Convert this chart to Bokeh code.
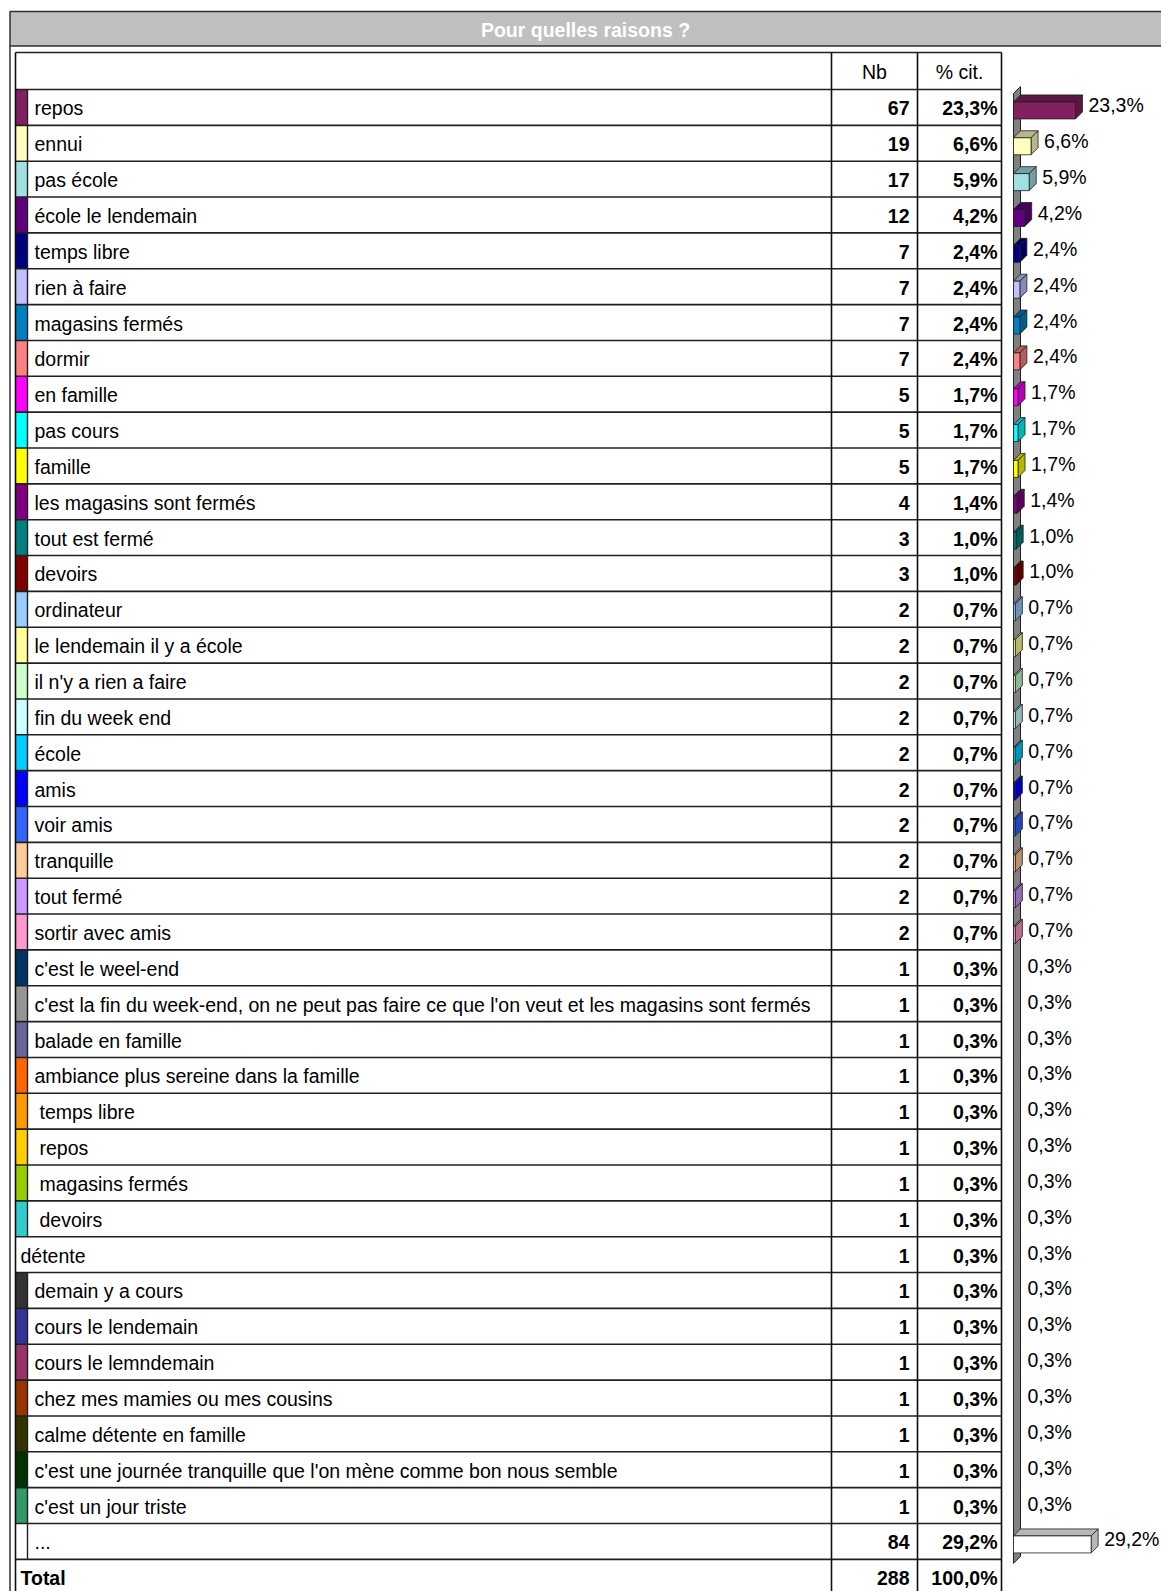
from bokeh.plotting import figure
from bokeh.models import Range1d
from bokeh.core.properties import value
from bokeh.embed import file_html
from bokeh.resources import INLINE

# ---------------- data ----------------
title = "Pour quelles raisons ?"
header_nb = "Nb"
header_pct = "% cit."

labels = [
    "repos", "ennui", "pas école", "école le lendemain", "temps libre",
    "rien à faire", "magasins fermés", "dormir", "en famille", "pas cours",
    "famille", "les magasins sont fermés", "tout est fermé", "devoirs",
    "ordinateur", "le lendemain il y a école", "il n'y a rien a faire",
    "fin du week end", "école", "amis", "voir amis", "tranquille",
    "tout fermé", "sortir avec amis", "c'est le weel-end",
    "c'est la fin du week-end, on ne peut pas faire ce que l'on veut et les magasins sont fermés",
    "balade en famille", "ambiance plus sereine dans la famille",
    " temps libre", " repos", " magasins fermés", " devoirs", "détente",
    "demain y a cours", "cours le lendemain", "cours le lemndemain",
    "chez mes mamies ou mes cousins", "calme détente en famille",
    "c'est une journée tranquille que l'on mène comme bon nous semble",
    "c'est un jour triste", "...",
]
counts = [67, 19, 17, 12, 7, 7, 7, 7, 5, 5, 5, 4, 3, 3, 2, 2, 2, 2, 2, 2, 2, 2,
          2, 2, 1, 1, 1, 1, 1, 1, 1, 1, 1, 1, 1, 1, 1, 1, 1, 1, 84]
pcts = [23.3, 6.6, 5.9, 4.2, 2.4, 2.4, 2.4, 2.4, 1.7, 1.7, 1.7, 1.4, 1.0, 1.0,
        0.7, 0.7, 0.7, 0.7, 0.7, 0.7, 0.7, 0.7, 0.7, 0.7, 0.3, 0.3, 0.3, 0.3,
        0.3, 0.3, 0.3, 0.3, 0.3, 0.3, 0.3, 0.3, 0.3, 0.3, 0.3, 0.3, 29.2]
colors = [
    "#832060", "#FFFFC0", "#A0E0E0", "#600080", "#000080", "#C0C0FF",
    "#0080C0", "#FF8080", "#FF00FF", "#00FFFF", "#FFFF00", "#800080",
    "#008080", "#800000", "#99CCFF", "#FFFF99", "#CCFFCC", "#CCFFFF",
    "#00CCFF", "#0000FF", "#3366FF", "#FFCC99", "#CC99FF", "#FF99CC",
    "#003366", "#969696", "#666699", "#FF6600", "#FF9900", "#FFCC00",
    "#99CC00", "#33CCCC", None, "#333333", "#333399", "#993366",
    "#993300", "#333300", "#003300", "#339966", "#FFFFFF",
]
total_label = "Total"
total_count = 288
total_pct = 100.0

# ---------------- layout ----------------
W, H = 1161, 1591
FONT = "Liberation Sans"
FS = "19.5px"

outer_left = 9.5
title_top, title_bot = 11, 45.5
t_left, t_top, head_bot = 15, 52, 89
row_h = 35.85
sw_right = 27
col_nb, col_pct, t_right = 831, 917, 1001
bar_x0 = 1013
px_per_pct = 2.66
depth = 7
n = len(labels)
total_top = head_bot + n * row_h
total_bot = total_top + row_h


def fmt_pct(v):
    return f"{v:.1f}".replace(".", ",") + "%"


def darken(hexc, f=0.72):
    h = hexc.lstrip("#")
    r, g, b = (int(h[i:i + 2], 16) for i in (0, 2, 4))
    return "#%02x%02x%02x" % (int(r * f), int(g * f), int(b * f))


p = figure(width=W, height=H, x_range=Range1d(0, W), y_range=Range1d(H, 0),
           output_backend="svg", toolbar_location=None, min_border=0)
p.axis.visible = False
p.grid.visible = False
p.outline_line_color = None
p.background_fill_color = "white"
p.border_fill_color = "white"

# title bar + outer frame
p.quad(left=[outer_left], right=[1300], top=[title_top], bottom=[title_bot],
       fill_color="#C0C0C0", line_color="#303030", line_width=1.5)
p.segment(x0=[outer_left], y0=[title_bot], x1=[outer_left], y1=[1700],
          line_color="#303030", line_width=1.5)
p.text(x=[585], y=[(title_top + title_bot) / 2 + 1], text=[title],
       text_font=value(FONT), text_font_size="19.5px", text_font_style="bold",
       text_color="white", text_align="center", text_baseline="middle")

# rows geometry
tops = [head_bot + i * row_h for i in range(n)]
bots = [t + row_h for t in tops]
ctrs = [t + row_h / 2 for t in tops]

# swatches
sw_idx = [i for i in range(n) if colors[i] is not None]
p.quad(left=[t_left] * len(sw_idx), right=[sw_right] * len(sw_idx),
       top=[tops[i] for i in sw_idx], bottom=[bots[i] for i in sw_idx],
       fill_color=[colors[i] for i in sw_idx], line_color=None)

# grid lines
hy = [t_top, head_bot] + bots + [total_bot]
p.segment(x0=[t_left] * len(hy), y0=hy, x1=[t_right] * len(hy), y1=hy,
          line_color="#202020", line_width=1.6)
vx = [t_left, col_nb, col_pct, t_right]
p.segment(x0=vx, y0=[t_top] * 4, x1=vx, y1=[total_bot + 20] * 4,
          line_color="#101010", line_width=1.6)
p.segment(x0=[sw_right] * len(sw_idx), y0=[tops[i] for i in sw_idx],
          x1=[sw_right] * len(sw_idx), y1=[bots[i] for i in sw_idx],
          line_color="#202020", line_width=1.4)

# header
p.text(x=[(col_nb + col_pct) / 2, (col_pct + t_right) / 2], y=[(t_top + head_bot) / 2 + 1] * 2,
       text=[header_nb, header_pct], text_font=value(FONT), text_font_size=FS,
       text_align="center", text_baseline="middle", text_color="#000000")

# row labels
lab_x = []
lab_t = []
for i, lab in enumerate(labels):
    base = sw_right + 7 if colors[i] is not None else t_left + 5
    if lab.startswith(" "):
        base += 5
    lab_x.append(base)
    lab_t.append(lab.strip())
p.text(x=lab_x, y=[c + 1 for c in ctrs], text=lab_t, text_font=value(FONT),
       text_font_size=FS, text_baseline="middle", text_color="#000000")

# numbers
p.text(x=[col_nb + 78] * n, y=[c + 1 for c in ctrs], text=[str(v) for v in counts],
       text_font=value(FONT), text_font_size=FS, text_font_style="bold",
       text_align="right", text_baseline="middle", text_color="#000000")
p.text(x=[t_right - 4] * n, y=[c + 1 for c in ctrs], text=[fmt_pct(v) for v in pcts],
       text_font=value(FONT), text_font_size=FS, text_font_style="bold",
       text_align="right", text_baseline="middle", text_color="#000000")

# total row
tc = total_top + row_h / 2 + 1
p.text(x=[t_left + 5], y=[tc], text=[total_label], text_font=value(FONT), text_font_size=FS,
       text_font_style="bold", text_baseline="middle", text_color="#000000")
p.text(x=[col_nb + 78, t_right - 4], y=[tc, tc], text=[str(total_count), fmt_pct(total_pct)],
       text_font=value(FONT), text_font_size=FS, text_font_style="bold",
       text_align="right", text_baseline="middle", text_color="#000000")

# 3D bar chart wall
wall_top = tops[0] + 4
wall_bot = bots[-1] + 4
p.patch(x=[bar_x0, bar_x0 + depth, bar_x0 + depth, bar_x0],
        y=[wall_top, wall_top - depth, wall_bot - depth, wall_bot],
        fill_color="#808080", line_color="#202020", line_width=1)

# bars
fx0, fx1, fy0, fy1, fc = [], [], [], [], []
top_xs, top_ys, side_xs, side_ys, dc = [], [], [], [], []
for i, v in enumerate(pcts):
    if v < 0.5:
        continue
    x1 = bar_x0 + v * px_per_pct
    ft = ctrs[i] - 5.5
    fb = ctrs[i] + 11.5
    fx0.append(bar_x0); fx1.append(x1); fy0.append(ft); fy1.append(fb); fc.append(colors[i])
    top_xs.append([bar_x0, bar_x0 + depth, x1 + depth, x1])
    top_ys.append([ft, ft - depth, ft - depth, ft])
    side_xs.append([x1, x1 + depth, x1 + depth, x1])
    side_ys.append([ft, ft - depth, fb - depth, fb])
    dc.append(darken(colors[i]))
p.patches(xs=top_xs, ys=top_ys, fill_color=dc, line_color="#202020", line_width=0.8)
p.patches(xs=side_xs, ys=side_ys, fill_color=dc, line_color="#202020", line_width=0.8)
p.quad(left=fx0, right=fx1, top=fy0, bottom=fy1, fill_color=fc,
       line_color="#202020", line_width=0.8)

# bar value labels
bl_x = [bar_x0 + max(v * px_per_pct, 1) + depth + 6 for v in pcts]
p.text(x=bl_x, y=[c - 2 for c in ctrs], text=[fmt_pct(v) for v in pcts],
       text_font=value(FONT), text_font_size=FS, text_baseline="middle",
       text_color="#000000")

open("out.html", "w").write(file_html(p, INLINE))
